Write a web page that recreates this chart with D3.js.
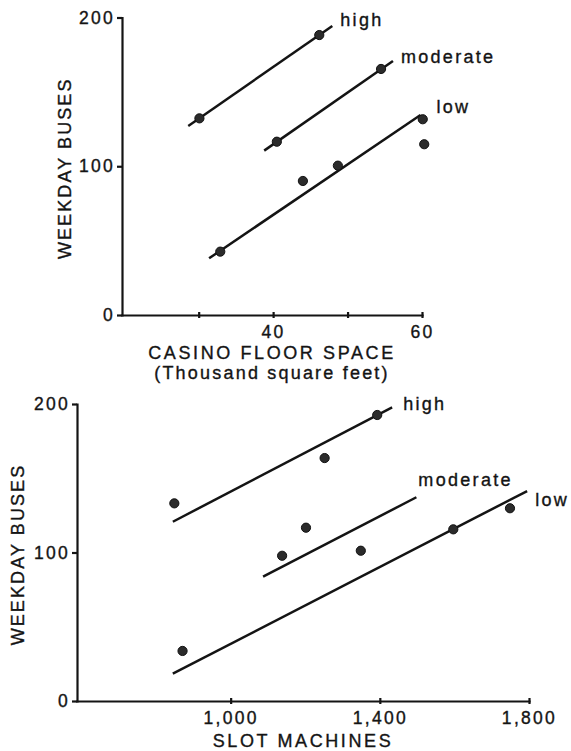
<!DOCTYPE html>
<html>
<head>
<meta charset="utf-8">
<script src="https://cdn.jsdelivr.net/npm/d3@7"></script>
<style>
  body { margin: 0; background: #fff; }
  svg text { font-family: "Liberation Sans", Arial, sans-serif; fill: #141414; stroke: #141414; stroke-width: 0.35px; letter-spacing: 2.3px; }
  .axis path, .axis line { stroke: #141414; stroke-width: 2.2; }
  .fit { stroke: #141414; stroke-width: 2.5; fill: none; }
  .dot { fill: #2b2b2b; stroke: #111; stroke-width: 1; }
</style>
</head>
<body>
<div id="wrapper"></div>
<script>
// 1. data
const categories = ["high", "moderate", "low"];

// top panel: casino floor space (thousand sq ft) vs weekday buses
const floorHighPoints = [[30.1, 132.2], [46.2, 188.2]];
const floorModeratePoints = [[40.5, 116.5], [54.5, 165.4]];
const floorLowPoints = [[32.9, 42.6], [44.0, 90.1], [48.7, 100.4], [60.1, 131.6], [60.3, 114.8]];
const floorHighLine = [[28.6, 127.1], [47.95, 194.3]];
const floorModerateLine = [[38.8, 110.5], [56.1, 170.8]];
const floorLowLine = [[31.4, 38.1], [59.8, 134.5]];
const floorTicks = [30, 40, 50, 60];
const floorTickLabels = [40, 60];

// bottom panel: slot machines vs weekday buses
const slotHighPoints = [[849, 133.1], [1393, 192.6], [1252, 163.6]];
const slotModeratePoints = [[1138, 97.8], [1202, 116.7], [1349, 101.2]];
const slotLowPoints = [[871, 33.7], [1597, 115.6], [1749, 129.8]];
const slotHighLine = [[845, 120.7], [1433, 197.8]];
const slotModerateLine = [[1087, 83.7], [1498, 137.2]];
const slotLowLine = [[845, 18.4], [1795, 141.4]];
const slotTicks = [1000, 1400, 1800];
const slotTickLabels = [1000, 1400, 1800];

const busTicks = [0, 100, 200];

// 2. dimensions
const width = 571, height = 751;

const wrapper = d3.select("#wrapper").append("svg")
    .attr("width", width)
    .attr("height", height);

const panels = [
    {
        xDomain: [19.7, 60], xRange: [122, 422], yRange: [315, 17.5],
        points: [floorHighPoints, floorModeratePoints, floorLowPoints],
        lines: [floorHighLine, floorModerateLine, floorLowLine],
        ticks: floorTicks, tickLabels: floorTickLabels, fmt: d3.format("d"),
        labelOffsets: [[8, 0], [8, 2], [16, -2]],
        yLabelX: 65,
        xTitle: ["CASINO FLOOR SPACE", "(Thousand square feet)"], xTitleY: [359, 379]
    },
    {
        xDomain: [588, 1800], xRange: [77, 529], yRange: [701, 404],
        points: [slotHighPoints, slotModeratePoints, slotLowPoints],
        lines: [slotHighLine, slotModerateLine, slotLowLine],
        ticks: slotTicks, tickLabels: slotTickLabels, fmt: d3.format(","),
        labelOffsets: [[11, 3], [2, -11], [8, 15]],
        yLabelX: 18,
        xTitle: ["SLOT MACHINES"], xTitleY: [747]
    }
];

panels.forEach(p => {
    // 3. scales
    const x = d3.scaleLinear().domain(p.xDomain).range(p.xRange);
    const y = d3.scaleLinear().domain([0, 200]).range(p.yRange);
    const g = wrapper.append("g");

    // 4. axes
    const xAxis = g.append("g")
        .attr("class", "axis")
        .attr("transform", `translate(0, ${y(0)})`)
        .call(d3.axisBottom(x)
            .tickValues(p.ticks)
            .tickSizeInner(3)
            .tickSizeOuter(0)
            .tickFormat(d => p.tickLabels.includes(d) ? p.fmt(d) : ""));
    xAxis.selectAll(".tick line").attr("y1", -3).attr("stroke-width", 1.5);
    xAxis.selectAll("text")
        .attr("y", 11)
        .attr("font-size", 17.5)
        .style("font-family", "Liberation Sans, Arial, sans-serif");

    const yAxis = g.append("g")
        .attr("class", "axis")
        .attr("transform", `translate(${x.range()[0]}, 0)`)
        .call(d3.axisLeft(y)
            .tickValues(busTicks)
            .tickSize(5)
            .tickSizeOuter(0));
    yAxis.selectAll(".tick line").attr("stroke-width", 1.5);
    yAxis.selectAll("text")
        .attr("x", -7)
        .attr("font-size", 17.5)
        .style("font-family", "Liberation Sans, Arial, sans-serif");
    g.selectAll(".axis .domain").attr("stroke-linecap", "square");

    // 5. fitted lines and points
    const line = d3.line().x(d => x(d[0])).y(d => y(d[1]));
    g.selectAll(".fit")
        .data(p.lines)
        .join("path")
        .attr("class", "fit")
        .attr("d", line);

    g.selectAll(".dot")
        .data(p.points.flat())
        .join("circle")
        .attr("class", "dot")
        .attr("cx", d => x(d[0]))
        .attr("cy", d => y(d[1]))
        .attr("r", 4.6);

    // line labels
    g.selectAll(".cat")
        .data(categories)
        .join("text")
        .attr("class", "cat")
        .attr("font-size", 18)
        .attr("x", (d, i) => x(p.lines[i][1][0]) + p.labelOffsets[i][0])
        .attr("y", (d, i) => y(p.lines[i][1][1]) + p.labelOffsets[i][1])
        .text(d => d);

    // 6. titles
    const [y0, y1] = p.yRange;
    g.append("text")
        .attr("transform", `translate(${p.yLabelX}, ${(y0 + y1) / 2 + 2}) rotate(-90)`)
        .attr("text-anchor", "middle")
        .attr("dy", "0.36em")
        .attr("font-size", 18)
        .style("letter-spacing", "2.1px")
        .text("WEEKDAY BUSES");

    p.xTitle.forEach((t, i) => {
        g.append("text")
            .attr("x", (p.xRange[0] + p.xRange[1]) / 2)
            .attr("y", p.xTitleY[i])
            .attr("text-anchor", "middle")
            .attr("font-size", 18)
            .style("letter-spacing", i === 0 ? "2.6px" : "2.2px")
            .text(t);
    });
});
</script>
</body>
</html>
